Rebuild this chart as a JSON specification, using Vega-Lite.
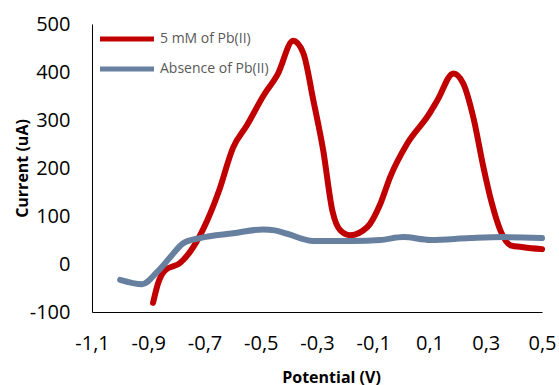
{
  "$schema": "https://vega.github.io/schema/vega-lite/v6.json",
  "width": 450,
  "height": 288,
  "autosize": {"type": "none"},
  "padding": {"left": 92, "top": 24, "right": 17, "bottom": 73},
  "background": "white",
  "config": {
    "view": {"stroke": null},
    "font": "Open Sans"
  },
  "data": {
    "values": [
      {"x": -0.883, "y": -81, "series": "5 mM of Pb(II)"},
      {"x": -0.865, "y": -40, "series": "5 mM of Pb(II)"},
      {"x": -0.84, "y": -13, "series": "5 mM of Pb(II)"},
      {"x": -0.787, "y": 2, "series": "5 mM of Pb(II)"},
      {"x": -0.74, "y": 35, "series": "5 mM of Pb(II)"},
      {"x": -0.69, "y": 91, "series": "5 mM of Pb(II)"},
      {"x": -0.65, "y": 150, "series": "5 mM of Pb(II)"},
      {"x": -0.598, "y": 243, "series": "5 mM of Pb(II)"},
      {"x": -0.548, "y": 290, "series": "5 mM of Pb(II)"},
      {"x": -0.491, "y": 350, "series": "5 mM of Pb(II)"},
      {"x": -0.44, "y": 395, "series": "5 mM of Pb(II)"},
      {"x": -0.385, "y": 465, "series": "5 mM of Pb(II)"},
      {"x": -0.349, "y": 440, "series": "5 mM of Pb(II)"},
      {"x": -0.313, "y": 341, "series": "5 mM of Pb(II)"},
      {"x": -0.278, "y": 237, "series": "5 mM of Pb(II)"},
      {"x": -0.245, "y": 110, "series": "5 mM of Pb(II)"},
      {"x": -0.217, "y": 70, "series": "5 mM of Pb(II)"},
      {"x": -0.182, "y": 60, "series": "5 mM of Pb(II)"},
      {"x": -0.121, "y": 77, "series": "5 mM of Pb(II)"},
      {"x": -0.075, "y": 125, "series": "5 mM of Pb(II)"},
      {"x": -0.04, "y": 181, "series": "5 mM of Pb(II)"},
      {"x": 0.021, "y": 251, "series": "5 mM of Pb(II)"},
      {"x": 0.096, "y": 310, "series": "5 mM of Pb(II)"},
      {"x": 0.128, "y": 341, "series": "5 mM of Pb(II)"},
      {"x": 0.185, "y": 397, "series": "5 mM of Pb(II)"},
      {"x": 0.22, "y": 376, "series": "5 mM of Pb(II)"},
      {"x": 0.256, "y": 305, "series": "5 mM of Pb(II)"},
      {"x": 0.292, "y": 201, "series": "5 mM of Pb(II)"},
      {"x": 0.32, "y": 130, "series": "5 mM of Pb(II)"},
      {"x": 0.352, "y": 70, "series": "5 mM of Pb(II)"},
      {"x": 0.388, "y": 39, "series": "5 mM of Pb(II)"},
      {"x": 0.434, "y": 35, "series": "5 mM of Pb(II)"},
      {"x": 0.5, "y": 31, "series": "5 mM of Pb(II)"},
      {"x": -1.0, "y": -33, "series": "Absence of Pb(II)"},
      {"x": -0.922, "y": -42, "series": "Absence of Pb(II)"},
      {"x": -0.869, "y": -17, "series": "Absence of Pb(II)"},
      {"x": -0.822, "y": 14, "series": "Absence of Pb(II)"},
      {"x": -0.776, "y": 43, "series": "Absence of Pb(II)"},
      {"x": -0.716, "y": 54, "series": "Absence of Pb(II)"},
      {"x": -0.598, "y": 64, "series": "Absence of Pb(II)"},
      {"x": -0.491, "y": 72, "series": "Absence of Pb(II)"},
      {"x": -0.45, "y": 70, "series": "Absence of Pb(II)"},
      {"x": -0.406, "y": 63, "series": "Absence of Pb(II)"},
      {"x": -0.313, "y": 48, "series": "Absence of Pb(II)"},
      {"x": -0.171, "y": 48, "series": "Absence of Pb(II)"},
      {"x": -0.075, "y": 50, "series": "Absence of Pb(II)"},
      {"x": 0.007, "y": 56, "series": "Absence of Pb(II)"},
      {"x": 0.103, "y": 50, "series": "Absence of Pb(II)"},
      {"x": 0.245, "y": 54, "series": "Absence of Pb(II)"},
      {"x": 0.363, "y": 56, "series": "Absence of Pb(II)"},
      {"x": 0.5, "y": 54, "series": "Absence of Pb(II)"}
    ]
  },
  "mark": {"type": "line", "interpolate": "monotone", "strokeWidth": 6, "strokeCap": "round", "strokeJoin": "round"},
  "encoding": {
    "x": {
      "field": "x",
      "type": "quantitative",
      "scale": {"domain": [-1.1, 0.5], "nice": false, "zero": false},
      "axis": {
        "title": "Potential (V)",
        "values": [-1.1, -0.9, -0.7, -0.5, -0.3, -0.1, 0.1, 0.3, 0.5],
        "labelExpr": "replace(replace(format(datum.value, '.1f'), '.', ','), '\u2212', '-')",
        "grid": false,
        "ticks": false,
        "tickSize": 0,
        "domainColor": "#000000",
        "domainWidth": 1,
        "labelFont": "Open Sans",
        "labelFontSize": 20,
        "labelColor": "#000000",
        "labelPadding": 21,
        "labelFlush": false,
        "labelOverlap": false,
        "titleFont": "Open Sans",
        "titleFontSize": 16,
        "titleFontWeight": "bold",
        "titleColor": "#000000",
        "titleX": 239,
        "titleY": 65,
        "titleBaseline": "middle",
        "titleAlign": "center"
      }
    },
    "y": {
      "field": "y",
      "type": "quantitative",
      "scale": {"domain": [-100, 500], "nice": false, "zero": false},
      "axis": {
        "title": "Current (uA)",
        "values": [-100, 0, 100, 200, 300, 400, 500],
        "labelExpr": "replace(format(datum.value, 'd'), '\u2212', '-')",
        "grid": false,
        "ticks": false,
        "tickSize": 0,
        "domainColor": "#000000",
        "domainWidth": 1,
        "labelFont": "Open Sans",
        "labelFontSize": 20,
        "labelColor": "#000000",
        "labelPadding": 22,
        "labelFlush": false,
        "labelOverlap": false,
        "titleFont": "Open Sans",
        "titleFontSize": 16,
        "titleFontWeight": "bold",
        "titleColor": "#000000",
        "titleAngle": 270,
        "titleX": -70,
        "titleY": 144,
        "titleBaseline": "middle",
        "titleAlign": "center"
      }
    },
    "color": {
      "field": "series",
      "type": "nominal",
      "scale": {"domain": ["5 mM of Pb(II)", "Absence of Pb(II)"], "range": ["#C00000", "#6880A0"]},
      "legend": {
        "title": null,
        "orient": "none",
        "legendX": 19,
        "legendY": -1,
        "symbolType": "M-2,0H2",
        "symbolSize": 729,
        "symbolStrokeWidth": 5,
        "symbolStrokeColor": null,
        "symbolFillColor": "transparent",
        "labelFont": "Open Sans",
        "labelFontSize": 14,
        "labelColor": "#595959",
        "labelOffset": 17,
        "rowPadding": 4
      }
    }
  }
}
